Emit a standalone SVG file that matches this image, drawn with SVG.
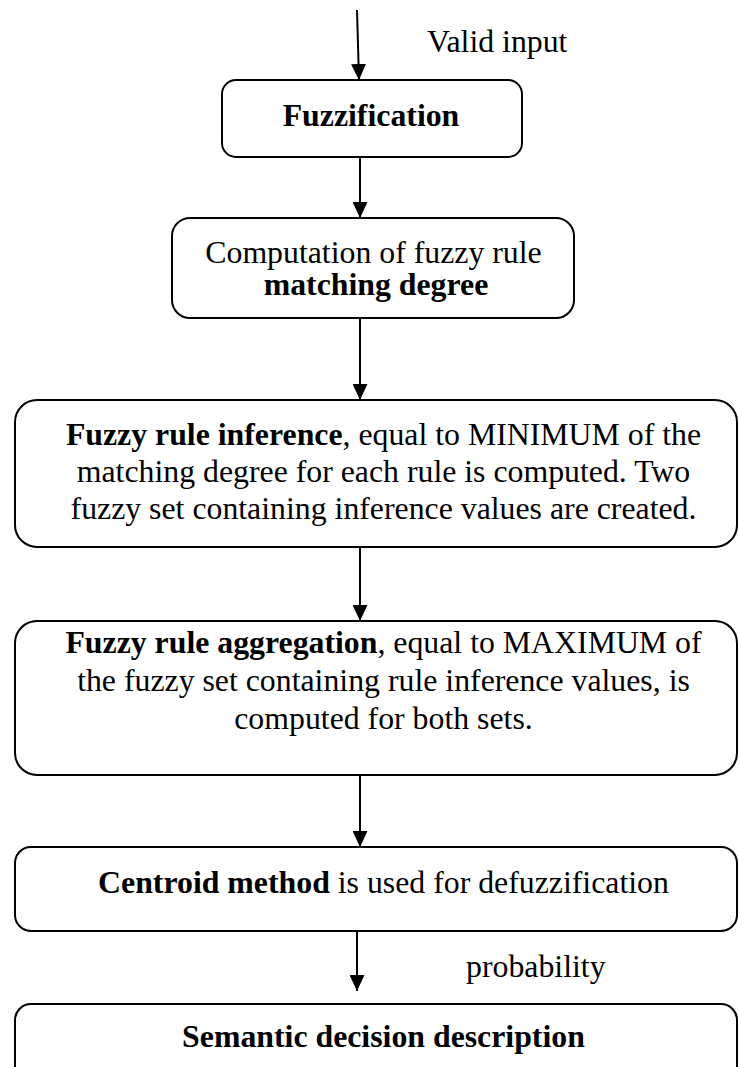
<svg xmlns="http://www.w3.org/2000/svg" width="739" height="1067" viewBox="0 0 739 1067">
  <defs>
    <style>
      .box { fill: #ffffff; stroke: #000000; stroke-width: 2; }
      .edge { stroke: #000000; stroke-width: 2; fill: none; marker-end: url(#arrow); }
      .t { font-family: "Liberation Serif", "Times New Roman", serif; font-size: 31.8px; fill: #000000; }
      .c { text-anchor: middle; }
      .b { font-weight: bold; }
    </style>
    <marker id="arrow" viewBox="0 0 16 15" refX="16" refY="7.5" markerWidth="16" markerHeight="15" markerUnits="userSpaceOnUse" orient="auto">
      <path d="M0,0 L16,7.5 L0,15 z" fill="#000000"/>
    </marker>
  </defs>
  <rect width="739" height="1067" fill="#ffffff"/>

  <!-- connectors -->
  <g id="connectors">
    <line class="edge" x1="357" y1="10" x2="359" y2="80"/>
    <line class="edge" x1="360" y1="158" x2="360" y2="218"/>
    <line class="edge" x1="360" y1="318" x2="360" y2="400"/>
    <line class="edge" x1="360" y1="548" x2="360" y2="621"/>
    <line class="edge" x1="360" y1="776" x2="360" y2="847"/>
    <line class="edge" x1="357" y1="928" x2="357" y2="991"/>
    <text class="t" x="427" y="52">Valid input</text>
    <text class="t" x="466" y="977">probability</text>
  </g>

  <!-- Fuzzification -->
  <g id="fuzzification">
    <rect class="box" x="222" y="80" width="300" height="77" rx="14"/>
    <text class="t c b" x="371" y="126">Fuzzification</text>
  </g>

  <!-- matching degree -->
  <g id="matching">
    <rect class="box" x="172" y="218" width="402" height="100" rx="18"/>
    <text class="t c" x="373.5" y="263">Computation of fuzzy rule</text>
    <text class="t c" x="376" y="295" font-weight="bold">matching degree</text>
  </g>

  <!-- inference -->
  <g id="inference">
    <rect class="box" x="15" y="400" width="722" height="147" rx="22"/>
    <text class="t c" x="383.5" y="445"><tspan class="b">Fuzzy rule inference</tspan>, equal to MINIMUM of the</text>
    <text class="t c" x="383.5" y="482">matching degree for each rule is computed. Two</text>
    <text class="t c" x="383.5" y="519">fuzzy set containing inference values are created.</text>
  </g>

  <!-- aggregation -->
  <g id="aggregation">
    <rect class="box" x="15" y="621" width="722" height="154" rx="22"/>
    <text class="t c" x="383.5" y="653"><tspan class="b">Fuzzy rule aggregation</tspan>, equal to MAXIMUM of</text>
    <text class="t c" x="383.5" y="691">the fuzzy set containing rule inference values, is</text>
    <text class="t c" x="383.5" y="729">computed for both sets.</text>
  </g>

  <!-- defuzzification -->
  <g id="centroid">
    <rect class="box" x="15" y="847" width="722" height="84" rx="16"/>
    <text class="t c" x="383.5" y="893"><tspan class="b">Centroid method</tspan> is used for defuzzification</text>
  </g>

  <!-- output -->
  <g id="semantic">
    <rect class="box" x="15" y="1004" width="722" height="90" rx="16"/>
    <text class="t c b" x="383.5" y="1047">Semantic decision description</text>
  </g>
</svg>
